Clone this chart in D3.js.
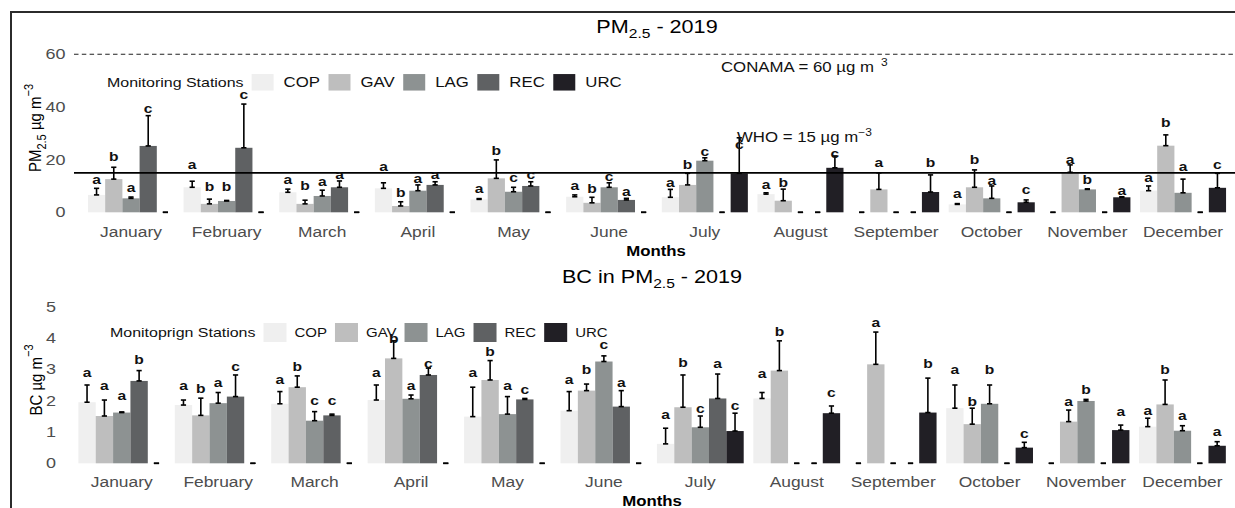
<!DOCTYPE html>
<html>
<head>
<meta charset="utf-8">
<script src="https://cdn.jsdelivr.net/npm/d3@7"></script>
<style>
  body { margin: 0; background: #fff; }
  svg { display: block; }
  text { font-family: "Liberation Sans", Arial, sans-serif; }
</style>
</head>
<body>
<svg id="chart" width="1235" height="508"></svg>
<script>
// ---------- data ----------
const months = ["January","February","March","April","May","June","July","August","September","October","November","December"];
const stations = ["COP","GAV","LAG","REC","URC"];
const stationFill = ["#efefef","#bebebe","#8d9292","#5f6163","#211f25"];

// PM2.5 monthly means (µg m-3), one array per station
const pmCOP = [6.6, 9.5, 7.6, 9.1, 4.9, 5.9, 5.7, 6.9, 0, 3.0, 0, 8.2];
const pmGAV = [12.6, 3.2, 3.2, 2.4, 12.9, 3.6, 10.4, 4.4, 8.7, 9.5, 15.2, 25.3];
const pmLAG = [5.3, 4.3, 6.2, 8.2, 7.8, 9.5, 19.6, 0, 0, 5.3, 8.7, 7.4];
const pmREC = [25.2, 24.5, 9.5, 10.4, 10.0, 4.7, 0, 0, 0, 0, 0, 0];
const pmURC = [0, 0, 0, 0, 0, 0, 14.8, 16.9, 7.7, 3.8, 5.7, 9.3];
// PM2.5 standard deviations
const pmSdCOP = [2.5, 2.3, 1.2, 2.1, 0.3, 0.7, 3.0, 0.5, 0, 0.3, 0, 1.8];
const pmSdGAV = [4.5, 1.8, 1.4, 1.6, 7.0, 2.1, 4.4, 4.4, 6.3, 6.6, 2.8, 4.1];
const pmSdLAG = [0.5, 0.2, 2.2, 2.2, 1.7, 1.7, 1.1, 0, 0, 4.7, 0.2, 5.2];
const pmSdREC = [11.5, 16.6, 2.4, 1.2, 1.6, 0.6, 0, 0, 0, 0, 0, 0];
const pmSdURC = [0, 0, 0, 0, 0, 0, 13.5, 4.5, 6.5, 0.9, 0.2, 5.5];
// PM2.5 significance letters and the level (µg m-3) where each is written
const pmLetCOP = ["a","a","a","a","a","a","a","a","","a","","a"];
const pmLetGAV = ["b","b","b","b","b","b","b","b","a","b","a","b"];
const pmLetLAG = ["a","b","a","a","c","c","c","","","a","b","a"];
const pmLetREC = ["c","c","a","a","c","a","","","","","",""];
const pmLetURC = ["","","","","","","c","c","b","c","a","c"];
const pmLetAtCOP = [12.3, 18.0, 12.6, 17.3, 9.1, 10.1, 11.4, 10.6, 0, 7.2, 0, 13.1];
const pmLetAtGAV = [21.1, 9.7, 10.1, 7.6, 23.4, 9.1, 18.2, 11.2, 19.0, 20.1, 20.2, 34.2];
const pmLetAtLAG = [9.5, 9.7, 11.6, 12.9, 13.1, 13.5, 23.2, 0, 0, 11.9, 12.3, 17.3];
const pmLetAtREC = [39.5, 44.9, 14.2, 14.2, 14.2, 7.8, 0, 0, 0, 0, 0, 0];
const pmLetAtURC = [0, 0, 0, 0, 0, 0, 25.6, 22.4, 19.0, 8.8, 8.1, 18.2];
const pmTicks = [0, 20, 40, 60];
const conamaLimit = 60;
const whoLimit = 15;

// Black carbon in PM2.5 monthly means (µg m-3)
const bcCOP = [1.95, 1.86, 1.90, 2.02, 1.49, 1.68, 0.62, 2.07, 0, 1.76, 0, 1.17];
const bcGAV = [1.51, 1.53, 2.43, 3.35, 2.66, 2.32, 1.79, 2.96, 3.16, 1.25, 1.33, 1.88];
const bcLAG = [1.62, 1.92, 1.36, 2.06, 1.57, 3.25, 1.15, 0, 0, 1.90, 1.99, 1.04];
const bcREC = [2.63, 2.13, 1.53, 2.82, 2.04, 1.81, 2.07, 0, 0, 0, 0, 0];
const bcURC = [0, 0, 0, 0, 0, 0, 1.03, 1.60, 1.62, 0.50, 1.06, 0.56];
// BC standard deviations
const bcSdCOP = [0.55, 0.16, 0.39, 0.48, 0.94, 0.61, 0.50, 0.19, 0, 0.74, 0, 0.27];
const bcSdGAV = [0.51, 0.55, 0.36, 0.56, 0.62, 0.21, 1.03, 0.95, 1.03, 0.51, 0.37, 0.78];
const bcSdLAG = [0.02, 0.34, 0.29, 0.12, 0.56, 0.18, 0.36, 0, 0, 0.60, 0.05, 0.16];
const bcSdREC = [0.33, 0.69, 0.04, 0.22, 0.03, 0.51, 0.78, 0, 0, 0, 0, 0];
const bcSdURC = [0, 0, 0, 0, 0, 0, 0.57, 0.23, 1.10, 0.17, 0.16, 0.13];
// BC significance letters and their levels
const bcLetCOP = ["a","a","a","a","a","a","a","a","","a","","a"];
const bcLetGAV = ["a","b","b","b","b","b","b","b","a","b","a","b"];
const bcLetLAG = ["a","a","c","a","a","c","c","","","b","b","a"];
const bcLetREC = ["b","c","c","c","c","a","a","","","","",""];
const bcLetURC = ["","","","","","","c","c","b","c","a","a"];
const bcLetAtCOP = [2.90, 2.47, 2.66, 2.90, 2.90, 2.66, 1.57, 2.88, 0, 2.98, 0, 1.70];
const bcLetAtGAV = [2.47, 2.40, 3.09, 3.99, 3.57, 2.98, 3.22, 4.21, 4.49, 1.97, 1.97, 2.98];
const bcLetAtLAG = [2.15, 2.58, 2.00, 2.47, 2.47, 3.80, 1.76, 0, 0, 2.98, 2.36, 1.54];
const bcLetAtREC = [3.30, 3.09, 2.00, 3.19, 2.36, 2.58, 3.19, 0, 0, 0, 0, 0];
const bcLetAtURC = [0, 0, 0, 0, 0, 0, 1.86, 2.27, 3.19, 0.96, 1.65, 1.03];
const bcTicks = [0, 1, 2, 3, 4, 5];

// ---------- drawing ----------
const SX = 1.2;               // horizontal stretch applied to text glyphs
const svg = d3.select("#chart");

// text drawn at (x, y) and widened horizontally by SX
function label(g, x, y, str, size, opts = {}) {
  const t = g.append("text")
    .attr("transform", `translate(${x},${y}) scale(${SX},1)`)
    .attr("font-size", size)
    .attr("fill", opts.fill || "#000")
    .attr("text-anchor", opts.anchor || "start")
    .attr("font-weight", opts.weight || "normal");
  if (opts.baseline) t.attr("dominant-baseline", opts.baseline);
  if (str !== null) t.text(str);
  return t;
}
function tspan(t, str, size, dy) {
  const s = t.append("tspan").attr("font-size", size).text(str);
  if (dy) s.attr("dy", dy);
  return s;
}

// outer frame
svg.append("path")
  .attr("d", "M1240,12 H11 V520")
  .attr("fill", "none").attr("stroke", "#2b2b2b").attr("stroke-width", 2);

function drawLegend(g, x0, cy, title, titleSize, labSize, sw, sh, gapA, gapB, gapC) {
  const t = label(g, x0, cy, title, titleSize, { fill: "#111", baseline: "central" });
  let x = x0 + t.node().getComputedTextLength() * SX + gapA;
  stations.forEach((s, i) => {
    g.append("rect").attr("x", x).attr("y", cy - sh / 2)
      .attr("width", sw).attr("height", sh).attr("fill", stationFill[i]);
    x += sw + gapB;
    const l = label(g, x, cy, s, labSize, { fill: "#111", baseline: "central" });
    x += l.node().getComputedTextLength() * SX + gapC;
  });
}

function drawPanel(p) {
  const g = svg.append("g");
  const x = d3.scaleBand().domain(months).range([p.left, p.right])
    .paddingInner(0).paddingOuter(0.1);
  const bw = x.bandwidth();
  const xs = d3.scaleBand().domain(stations).range([0.05 * bw, 0.95 * bw]);
  const y = d3.scaleLinear().domain([p.ticks[0], p.ticks[p.ticks.length - 1]])
    .range([p.bottom, p.top]);

  const rows = [];
  months.forEach((m, i) => stations.forEach((s, j) => rows.push({
    m, s, j,
    v: p.means[j][i], sd: p.sds[j][i],
    letter: p.letters[j][i], at: p.letterAt[j][i]
  })));
  const cx = d => x(d.m) + xs(d.s) + xs.bandwidth() / 2;

  // y tick labels
  p.ticks.forEach(v => label(g, p.left - 8, y(v), String(v), 15,
    { fill: "#4d4d4d", anchor: "end", baseline: "central" }));

  // reference lines (drawn beneath bars)
  if (p.refLines) p.refLines(g, y);

  // bars
  g.selectAll("rect.bar").data(rows).join("rect")
    .attr("class", "bar")
    .attr("x", d => x(d.m) + xs(d.s))
    .attr("width", xs.bandwidth())
    .attr("y", d => y(d.v))
    .attr("height", d => y(0) - y(d.v))
    .attr("fill", d => stationFill[d.j]);

  // error bars: from mean to mean + sd, capped at both ends
  const cap = 2.6;
  const eb = g.selectAll("g.err").data(rows).join("g").attr("class", "err")
    .attr("stroke", "#000").attr("stroke-width", 1.6);
  eb.append("line")
    .attr("x1", cx).attr("x2", cx)
    .attr("y1", d => y(d.v)).attr("y2", d => y(d.v + d.sd));
  eb.append("line")
    .attr("x1", d => cx(d) - cap).attr("x2", d => cx(d) + cap)
    .attr("y1", d => y(d.v + d.sd)).attr("y2", d => y(d.v + d.sd));
  eb.append("line")
    .attr("x1", d => cx(d) - cap).attr("x2", d => cx(d) + cap)
    .attr("y1", d => y(d.v)).attr("y2", d => y(d.v));

  if (p.overBars) p.overBars(g, y);

  // significance letters
  rows.filter(d => d.letter).forEach(d =>
    label(g, cx(d), y(d.at) + 4.5, d.letter, 13, { anchor: "middle", weight: "bold", fill: "#111" }));

  // month labels
  months.forEach(m => label(g, x(m) + bw / 2, p.monthY, m, 14.5, { fill: "#4d4d4d", anchor: "middle" }));

  // axis title
  label(g, p.axisTitleX, p.monthY + 18.5, "Months", 14, { anchor: "middle", weight: "bold" });

  // panel title
  const tt = label(g, p.titleX, p.titleY, null, 18, { anchor: "middle" });
  p.title(tt);

  // y axis title
  const yt = g.append("text")
    .attr("transform", `translate(${p.yTitleX},${p.yTitleY}) rotate(-90) scale(1,1.15)`)
    .attr("text-anchor", "middle").attr("font-size", 15).attr("fill", "#000");
  p.yTitle(yt);

  drawLegend(g, p.legendX, p.legendY, p.legendTitle, p.legendTitleSize, p.legendLabSize,
    p.swW, p.swH, 8, p.swGap, p.labGap);
}

// PM2.5 panel
drawPanel({
  left: 73.6, right: 1240.4, top: 54.3, bottom: 212.3,
  ticks: pmTicks,
  means: [pmCOP, pmGAV, pmLAG, pmREC, pmURC],
  sds: [pmSdCOP, pmSdGAV, pmSdLAG, pmSdREC, pmSdURC],
  letters: [pmLetCOP, pmLetGAV, pmLetLAG, pmLetREC, pmLetURC],
  letterAt: [pmLetAtCOP, pmLetAtGAV, pmLetAtLAG, pmLetAtREC, pmLetAtURC],
  monthY: 237, axisTitleX: 656,
  titleX: 657, titleY: 33,
  title: t => { tspan(t, "PM", 18); tspan(t, "2.5", 13, 5); tspan(t, " - 2019", 18, -5); },
  yTitleX: 41, yTitleY: 128,
  yTitle: t => { tspan(t, "PM", 15); tspan(t, "2.5", 11, 4); tspan(t, " µg m", 15, -4); tspan(t, "−3", 11, -7); },
  legendX: 107, legendY: 82.3, legendTitle: "Monitoring Stations",
  legendTitleSize: 13.3, legendLabSize: 14, swW: 22, swH: 16.5, swGap: 10, labGap: 8.5,
  refLines: (g, y) => {
    g.append("line").attr("x1", 74).attr("x2", 1240)
      .attr("y1", y(conamaLimit)).attr("y2", y(conamaLimit))
      .attr("stroke", "#222").attr("stroke-width", 1.1).attr("stroke-dasharray", "4.5,3.3");
    const c = label(g, 721, y(conamaLimit) + 17.5, null, 14, { fill: "#111" });
    tspan(c, "CONAMA = " + conamaLimit + " µg m", 14);
    tspan(c, "3", 10, -6).attr("dx", 6);
  },
  overBars: (g, y) => {
    g.append("line").attr("x1", 74).attr("x2", 1240)
      .attr("y1", y(whoLimit)).attr("y2", y(whoLimit))
      .attr("stroke", "#000").attr("stroke-width", 1.8);
    const w = label(g, 737, y(whoLimit) - 31, null, 14, { fill: "#111" });
    tspan(w, "WHO = " + whoLimit + " µg m", 14);
    tspan(w, "−3", 10, -6);
  }
});

// Black carbon panel
drawPanel({
  left: 63.9, right: 1240.3, top: 306.7, bottom: 463.3,
  ticks: bcTicks,
  means: [bcCOP, bcGAV, bcLAG, bcREC, bcURC],
  sds: [bcSdCOP, bcSdGAV, bcSdLAG, bcSdREC, bcSdURC],
  letters: [bcLetCOP, bcLetGAV, bcLetLAG, bcLetREC, bcLetURC],
  letterAt: [bcLetAtCOP, bcLetAtGAV, bcLetAtLAG, bcLetAtREC, bcLetAtURC],
  monthY: 487, axisTitleX: 652,
  titleX: 652, titleY: 283.3,
  title: t => { tspan(t, "BC in PM", 18); tspan(t, "2.5", 13, 5); tspan(t, " - 2019", 18, -5); },
  yTitleX: 41.5, yTitleY: 380,
  yTitle: t => { tspan(t, "BC µg m", 15); tspan(t, "−3", 11, -7); },
  legendX: 110, legendY: 332.5, legendTitle: "Monitoprign Stations",
  legendTitleSize: 13.3, legendLabSize: 12.5, swW: 23, swH: 19, swGap: 8, labGap: 8
});
</script>
</body>
</html>
